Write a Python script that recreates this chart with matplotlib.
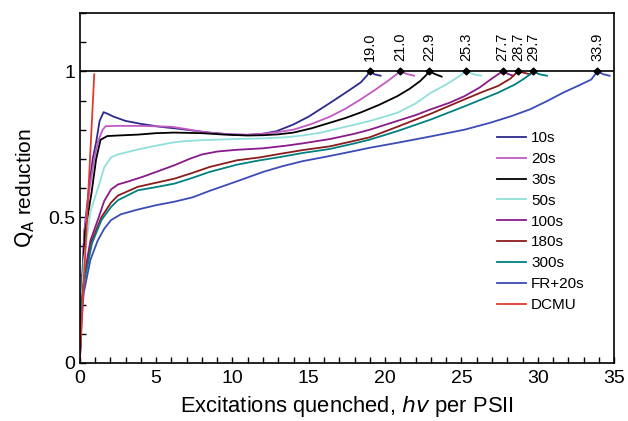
import numpy as np
import matplotlib.pyplot as plt
from matplotlib.ticker import MultipleLocator

plt.rcParams['font.family'] = ['Liberation Sans', 'DejaVu Sans']

labels = ['10s', '20s', '30s', '50s', '100s', '180s', '300s', 'FR+20s', 'DCMU']
colors = ['#2c2a8c', '#c25ac4', '#000000', '#8fe0da', '#8a1a8a',
          '#8b1c1c', '#008080', '#3a4cb5', '#e03a30']

x_10 = [0, 0.12, 0.3, 0.6, 0.85, 1.07, 1.3, 1.56, 1.8, 2.2, 3, 4, 5.25, 6.5, 7.4, 8.5, 10, 11, 12, 12.9, 14, 15, 16.4, 17.5, 18.4, 18.8, 19.0, 19.3, 19.7]
y_10 = [0, 0.24, 0.45, 0.6, 0.7, 0.756, 0.83, 0.86, 0.855, 0.845, 0.83, 0.82, 0.81, 0.803, 0.797, 0.79, 0.783, 0.782, 0.786, 0.795, 0.818, 0.845, 0.892, 0.93, 0.962, 0.985, 1.0, 0.99, 0.985]

x_20 = [0, 0.12, 0.3, 0.65, 0.95, 1.2, 1.5, 1.7, 2.5, 4, 6, 7, 7.9, 9, 10, 11, 12, 13, 14, 15.2, 16.4, 17.4, 18.4, 19.3, 20.2, 20.7, 21.0, 21.5, 21.9]
y_20 = [0, 0.24, 0.45, 0.6, 0.7, 0.76, 0.8, 0.812, 0.813, 0.813, 0.81, 0.802, 0.793, 0.787, 0.784, 0.783, 0.786, 0.792, 0.8, 0.82, 0.845, 0.872, 0.904, 0.935, 0.968, 0.988, 1.0, 0.99, 0.985]

x_30 = [0, 0.12, 0.35, 0.77, 1.07, 1.36, 1.8, 2.5, 3.8, 5, 6.2, 8, 9.5, 11, 12, 13, 14, 15.2, 16.4, 17.4, 18.4, 19.6, 20.8, 21.6, 22.3, 22.7, 22.9, 23.3, 23.7]
y_30 = [0, 0.24, 0.45, 0.583, 0.698, 0.765, 0.778, 0.78, 0.783, 0.788, 0.79, 0.788, 0.783, 0.78, 0.781, 0.784, 0.79, 0.805, 0.824, 0.84, 0.859, 0.885, 0.915, 0.94, 0.967, 0.988, 1.0, 0.99, 0.982]

x_50 = [0, 0.12, 0.26, 0.7, 1.2, 1.6, 2.05, 2.5, 3.8, 5, 6.2, 7, 8, 10.3, 12, 13.5, 14.6, 15.8, 17, 18, 19, 20, 20.8, 22, 23, 24, 24.7, 25.1, 25.3, 25.8, 26.3]
y_50 = [0, 0.22, 0.35, 0.52, 0.6, 0.67, 0.705, 0.715, 0.732, 0.745, 0.757, 0.761, 0.764, 0.768, 0.77, 0.774, 0.78, 0.79, 0.805, 0.817, 0.83, 0.845, 0.858, 0.89, 0.927, 0.955, 0.978, 0.992, 1.0, 0.99, 0.985]

x_100 = [0, 0.12, 0.3, 0.7, 1.18, 1.6, 2.05, 2.5, 3.15, 4.1, 5, 6.2, 7.2, 8, 9, 10.3, 12, 13.5, 14.6, 16.4, 18, 19, 20.8, 22, 23, 24.2, 25.2, 26.2, 26.9, 27.4, 27.7, 28.1, 28.4]
y_100 = [0, 0.2, 0.3, 0.42, 0.49, 0.555, 0.595, 0.612, 0.622, 0.638, 0.655, 0.678, 0.7, 0.715, 0.725, 0.731, 0.736, 0.745, 0.753, 0.768, 0.786, 0.8, 0.83, 0.85, 0.87, 0.892, 0.915, 0.945, 0.972, 0.99, 1.0, 0.99, 0.985]

x_180 = [0, 0.12, 0.3, 0.8, 1.42, 2.05, 2.5, 3.8, 5, 6.2, 7.4, 8.5, 10.3, 11.8, 13, 14.6, 16.4, 18, 19, 20.8, 23, 25.2, 26.4, 27.4, 28.2, 28.7, 29.1, 29.5]
y_180 = [0, 0.2, 0.29, 0.42, 0.5, 0.55, 0.574, 0.604, 0.618, 0.632, 0.652, 0.672, 0.695, 0.705, 0.716, 0.73, 0.743, 0.762, 0.774, 0.81, 0.855, 0.904, 0.93, 0.95, 0.975, 1.0, 0.995, 0.99]

x_300 = [0, 0.12, 0.3, 0.8, 1.42, 2.05, 2.5, 3.8, 5, 6.2, 7.4, 8.5, 10.3, 11.8, 13, 14.6, 16.4, 18, 19, 20.8, 23, 25.2, 27.4, 28.5, 29.1, 29.5, 29.7, 30.1, 30.6]
y_300 = [0, 0.19, 0.28, 0.41, 0.49, 0.535, 0.558, 0.592, 0.603, 0.615, 0.635, 0.655, 0.68, 0.695, 0.705, 0.72, 0.734, 0.753, 0.766, 0.795, 0.835, 0.88, 0.927, 0.955, 0.975, 0.99, 1.0, 0.99, 0.985]

x_fr = [0, 0.12, 0.26, 0.7, 1.18, 1.6, 2.05, 2.7, 3.8, 5, 6.2, 7.4, 8.5, 10.3, 12, 13.3, 14.6, 16.4, 18, 19, 20.8, 23, 25.2, 26.9, 28.3, 29.5, 30.6, 31.7, 32.7, 33.5, 33.9, 34.3, 34.7]
y_fr = [0, 0.15, 0.24, 0.354, 0.42, 0.46, 0.49, 0.51, 0.526, 0.541, 0.553, 0.568, 0.59, 0.623, 0.655, 0.675, 0.692, 0.71, 0.727, 0.738, 0.755, 0.777, 0.8, 0.824, 0.847, 0.87, 0.898, 0.928, 0.952, 0.972, 1.0, 0.99, 0.985]

x_dcmu = [0, 0.95]
y_dcmu = [0, 0.99]

xs = [x_10, x_20, x_30, x_50, x_100, x_180, x_300, x_fr, x_dcmu]
ys = [y_10, y_20, y_30, y_50, y_100, y_180, y_300, y_fr, y_dcmu]

# excitations at full reduction (labels above the line)
full_x = [19.0, 21.0, 22.9, 25.3, 27.7, 28.7, 29.7, 33.9]

fig = plt.figure(figsize=(6.28, 4.21), dpi=100)
ax = fig.add_axes([0.127, 0.138, 0.851, 0.831])

for xv, yv, c, lab in zip(xs, ys, colors, labels):
    ax.plot(xv, yv, color=c, lw=1.3, label=lab)

ax.axhline(1.0, color='black', lw=1.2)
ax.plot(full_x, [1.0] * len(full_x), 'D', color='black', ms=3.5)
for fx in full_x:
    ax.text(fx, 1.035, f'{fx:.1f}', rotation=90, ha='center', va='bottom', fontsize=10.5)

ax.set_xlim(0, 35)
ax.set_ylim(0, 1.2)
ax.xaxis.set_major_locator(MultipleLocator(5))
ax.xaxis.set_minor_locator(MultipleLocator(1))
ax.set_yticks([0, 0.5, 1])
ax.set_yticklabels(['0', '0.5', '1'])
ax.yaxis.set_minor_locator(MultipleLocator(0.1))
ax.tick_params(which='both', direction='in', length=4, width=1, labelsize=14,
               top=False, right=False)
ax.tick_params(axis='x', pad=5)
for s in ax.spines.values():
    s.set_linewidth(1.2)

ax.set_xlabel('Excitations quenched, $\\mathit{hv}$ per PSII', fontsize=15.8, labelpad=5)
ax.set_ylabel('$\\mathrm{Q_A}$ reduction', fontsize=15, labelpad=8)

ax.legend(loc='upper left', bbox_to_anchor=(0.77, 0.68), frameon=False,
          fontsize=11, handlelength=1.9, handletextpad=0.3, labelspacing=0.45,
          borderaxespad=0)

fig.savefig('out.png', dpi=100)
